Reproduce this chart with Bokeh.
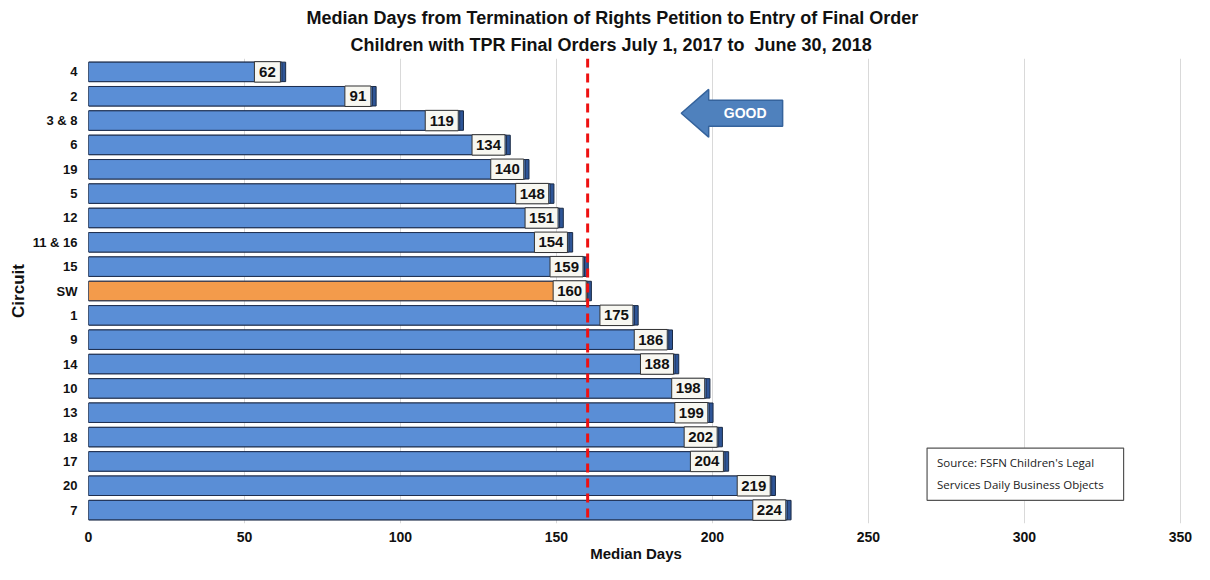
from bokeh.plotting import figure
from bokeh.models import (Range1d, FixedTicker, ColumnDataSource, Span, Title)
from bokeh.core.properties import value
from bokeh.embed import file_html
from bokeh.resources import INLINE

circuits = ["4", "2", "3 & 8", "6", "19", "5", "12", "11 & 16", "15", "SW",
            "1", "9", "14", "10", "13", "18", "17", "20", "7"]
median_days = [62, 91, 119, 134, 140, 148, 151, 154, 159, 160,
               175, 186, 188, 198, 199, 202, 204, 219, 224]
state_target = 160
x_ticks = [0, 50, 100, 150, 200, 250, 300, 350]
title_lines = ["Median Days from Termination of Rights Petition to Entry of Final Order",
               "Children with TPR Final Orders July 1, 2017 to\u00a0 June 30, 2018"]

n = len(circuits)
XMAX = 351
FRAME_W = 1095
px = XMAX / FRAME_W  # data units per pixel

ypos = [n - 1 - i for i in range(n)]
colors = ["#F39B4B" if c == "SW" else "#5A8ED6" for c in circuits]
labs = [str(v) for v in median_days]
box_r = [v - 1.5 * px for v in median_days]
box_l = [r - (26 if len(s) < 3 else 33) * px for r, s in zip(box_r, labs)]
src = ColumnDataSource(dict(y=ypos, v=median_days, c=colors, lab=labs,
                            vs=[v + 1.2 for v in median_days],
                            bl=box_l, br=box_r,
                            bc=[(l + r) / 2 for l, r in zip(box_l, box_r)],
                            bt=[y + 0.42 for y in ypos], bb=[y - 0.42 for y in ypos]))

FONT = "Liberation Sans"
YTOP = n - 0.45

p = figure(width=1194, height=564, output_backend="svg", toolbar_location=None,
           x_range=Range1d(0, XMAX), y_range=Range1d(-0.55, YTOP),
           min_border_left=88, min_border_right=11, min_border_top=58, min_border_bottom=40,
           title=None)
p.outline_line_color = None

# titles (bottom line added first, so it sits nearest the plot)
p.add_layout(Title(text=title_lines[1], align="left", text_font=FONT,
                   text_font_size="18px", text_font_style="bold", text_color="#111111",
                   standoff=8, offset=262), "above")
p.add_layout(Title(text=title_lines[0], align="left", text_font=FONT,
                   text_font_size="18px", text_font_style="bold", text_color="#111111",
                   standoff=2, offset=218), "above")

# bars: shadow (3D side) then main bar
p.hbar(y="y", left=0, right="vs", height=0.8, source=src,
       fill_color="#2E5597", line_color="#1A2A44", line_width=1)
p.hbar(y="y", left=0, right="v", height=0.8, source=src,
       fill_color="c", line_color="#1F2F4F", line_width=1)

# value boxes
p.quad(left="bl", right="br", top="bt", bottom="bb", source=src,
       fill_color="#F7F7F1", line_color="#333333", line_width=1)
p.text(x="bc", y="y", text="lab", source=src, text_align="center", text_baseline="middle",
       text_font=value(FONT), text_font_size="15px", text_font_style="bold",
       text_color="#111111")

# target line
p.add_layout(Span(location=state_target, dimension="height", line_color="#EE1111",
                  line_width=3, line_dash="9 6"))

# GOOD arrow
ax = [190.0, 198.8, 198.8, 222.5, 222.5, 198.8, 198.8]
ay = [18 - 1.70, 18 - 0.72, 18 - 1.17, 18 - 1.17, 18 - 2.23, 18 - 2.23, 18 - 2.68]
p.patch(ax, ay, fill_color="#4F81BD", line_color="#35639C", line_width=1.5)
p.text(x=[210.5], y=[18 - 1.70], text=["GOOD"], text_align="center", text_baseline="middle",
       text_font=value(FONT), text_font_size="14px", text_font_style="bold",
       text_color="white")

# source box
p.quad(left=[268.8], right=[331.8], top=[18 - 15.45], bottom=[18 - 17.6],
       fill_color="white", line_color="#555555", line_width=1.2)
p.text(x=[272.0, 272.0], y=[18 - 16.05, 18 - 16.95],
       text=["Source: FSFN Children's Legal", "Services Daily Business Objects"],
       text_baseline="middle", text_font=value("Open Sans"), text_font_size="11.5px",
       text_color="#222222")

# axes
p.xaxis.ticker = FixedTicker(ticks=x_ticks)
p.yaxis.ticker = FixedTicker(ticks=ypos)
p.yaxis.major_label_overrides = {y: c for y, c in zip(ypos, circuits)}
for ax_ in (p.xaxis[0], p.yaxis[0]):
    ax_.axis_line_color = None
    ax_.major_tick_line_color = None
    ax_.minor_tick_line_color = None
    ax_.major_tick_out = 0
    ax_.major_tick_in = 0
    ax_.minor_tick_out = 0
    ax_.major_label_text_font = FONT
    ax_.major_label_text_font_style = "bold"
    ax_.major_label_text_color = "#111111"
    ax_.axis_label_text_font = FONT
    ax_.axis_label_text_font_style = "bold"
    ax_.axis_label_text_color = "#111111"
p.xaxis.major_label_text_font_size = "14px"
p.yaxis.major_label_text_font_size = "13px"
p.xaxis.axis_label_text_font_size = "15px"
p.yaxis.axis_label_text_font_size = "17px"
p.xaxis.axis_label = "Median Days"
p.yaxis.axis_label = "Circuit"
p.xaxis.major_label_standoff = 8
p.xaxis.axis_label_standoff = 0
p.yaxis.major_label_standoff = 11
p.yaxis.axis_label_standoff = 2

p.xgrid.grid_line_color = "#D9D9D9"
p.xgrid.ticker = FixedTicker(ticks=x_ticks)
p.ygrid.grid_line_color = None

open("out.html", "w").write(file_html(p, INLINE))
